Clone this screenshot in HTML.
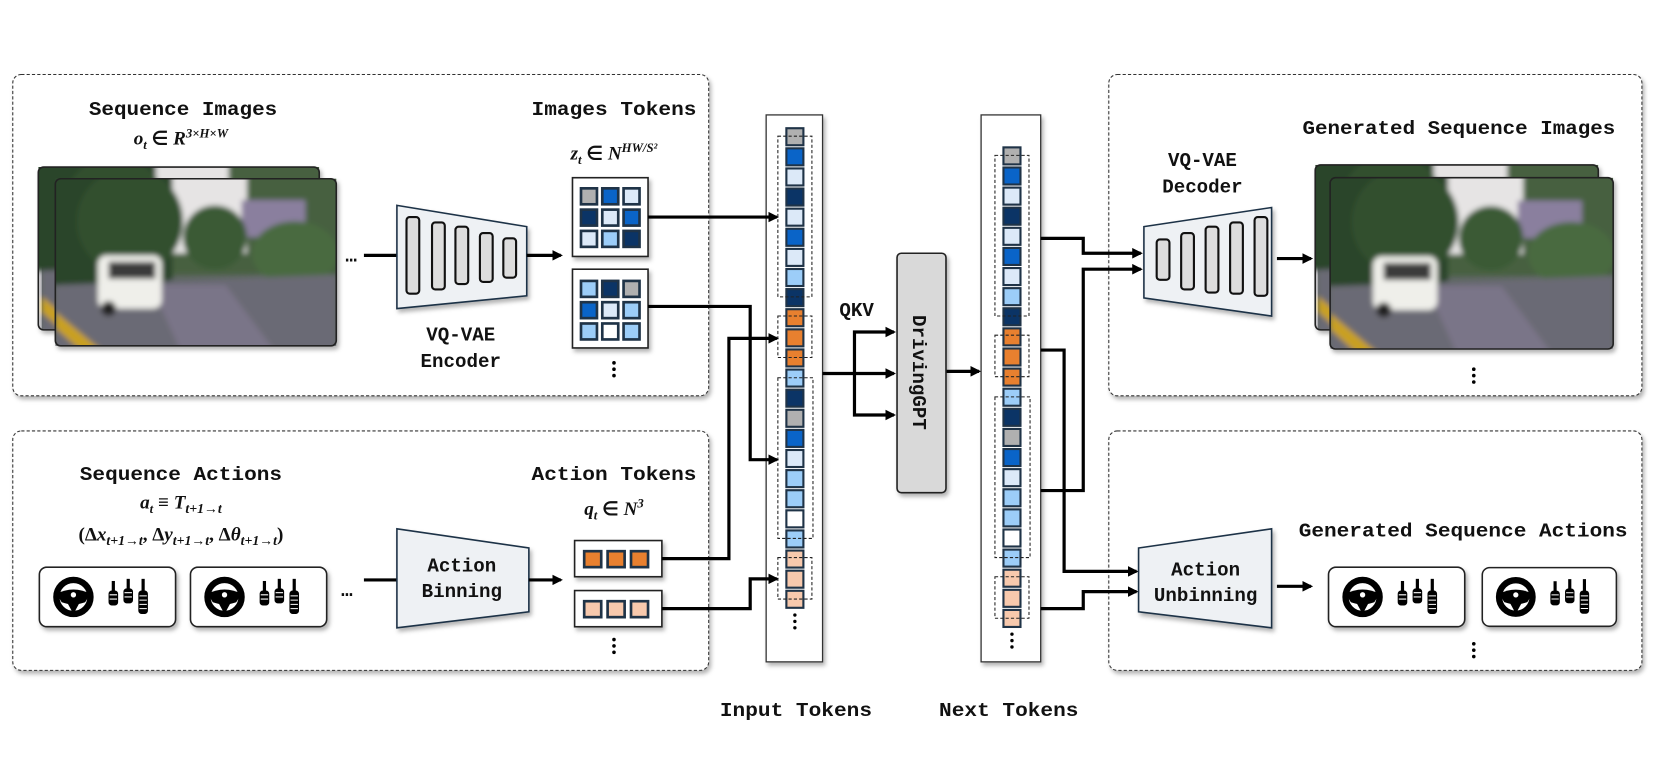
<!DOCTYPE html>
<html><head><meta charset="utf-8"><style>
html,body{margin:0;padding:0;background:#fff}
svg{display:block}
.t{font-family:"Liberation Mono",monospace;font-weight:bold;font-size:18px;fill:#111}
.m{font-family:"Liberation Serif",serif;font-style:italic;font-weight:bold;fill:#111}
.mu{font-family:"Liberation Serif",serif;font-weight:bold;fill:#111}
</style></head><body>
<svg width="1660" height="764" viewBox="0 0 1560 718" preserveAspectRatio="none" xmlns="http://www.w3.org/2000/svg">
<defs>
<filter id="sh" x="-10%" y="-10%" width="130%" height="130%"><feDropShadow dx="2" dy="3" stdDeviation="2" flood-color="#000" flood-opacity="0.3"/></filter>
<filter id="bl"><feGaussianBlur stdDeviation="2.5"/></filter>
<marker id="ar" markerWidth="10" markerHeight="10" refX="8" refY="5" orient="auto" markerUnits="userSpaceOnUse"><path d="M0,0 L10,5 L0,10 z" fill="#000"/></marker>
<symbol id="photo" viewBox="0 0 264 157">
<rect width="264" height="157" fill="#5d6660"/>
<g filter="url(#bl)">
<rect x="-10" y="-10" width="290" height="100" fill="#46613f"/>
<rect x="110" y="-10" width="70" height="80" fill="#e6e4e4"/>
<rect x="175" y="20" width="60" height="35" fill="#8a7f9e"/>
<ellipse cx="150" cy="55" rx="30" ry="30" fill="#3a5a34"/>
<ellipse cx="225" cy="70" rx="40" ry="30" fill="#4a6a40"/>
<rect x="-10" y="-10" width="120" height="110" fill="#2b4429"/>
<ellipse cx="70" cy="40" rx="50" ry="50" fill="#33502f"/>
<path d="M0,100 L264,90 L264,167 L0,167z" fill="#6b6a74"/>
<path d="M90,100 L160,100 L210,167 L120,167z" fill="#7a7488"/>
<path d="M0,125 L50,167 L30,167 L0,140z" fill="#c9a020"/>
<rect x="40" y="72" width="60" height="50" rx="8" fill="#efefea"/>
<rect x="50" y="78" width="44" height="16" fill="#3a3a3a"/>
<circle cx="50" cy="122" r="7" fill="#222"/>
</g>
</symbol>
<symbol id="card" viewBox="0 0 130 58">
<rect x="1" y="1" width="128" height="56" rx="7" fill="#fff" stroke="#222" stroke-width="1.5"/>
<circle cx="33" cy="29" r="16" fill="none" stroke="#000" stroke-width="6"/>
<path d="M17,26 Q33,18 49,26 L44,34 Q33,38 22,34z" fill="#000"/>
<path d="M27,34 L33,45 L39,34z" fill="#000"/>
<circle cx="33" cy="27" r="3" fill="#fff" stroke="#000" stroke-width="1"/>
<rect x="69" y="14" width="3" height="10" fill="#000"/><rect x="66" y="23" width="9" height="14" rx="3" fill="#000"/>
<rect x="83" y="12" width="3" height="10" fill="#000"/><rect x="80" y="21" width="9" height="14" rx="3" fill="#000"/>
<rect x="97" y="12" width="3" height="12" fill="#000"/><rect x="94" y="23" width="9" height="22" rx="3" fill="#000"/>
<g stroke="#fff" stroke-width="1"><path d="M67,27h7M67,31h7M81,25h7M81,29h7M95,28h7M95,32h7M95,36h7M95,40h7"/></g>
</symbol>
<g id="tok" stroke="#1f3347" stroke-width="2">
<rect x="739" y="120.5" width="16" height="16" fill="#b0b0b0"/>
<rect x="739" y="139.4" width="16" height="16" fill="#0a64c8"/>
<rect x="739" y="158.3" width="16" height="16" fill="#dce9f8"/>
<rect x="739" y="177.2" width="16" height="16" fill="#0b3466"/>
<rect x="739" y="196.1" width="16" height="16" fill="#dce9f8"/>
<rect x="739" y="215" width="16" height="16" fill="#0a64c8"/>
<rect x="739" y="233.9" width="16" height="16" fill="#dce9f8"/>
<rect x="739" y="252.8" width="16" height="16" fill="#9ccdf8"/>
<rect x="739" y="271.7" width="16" height="16" fill="#0b3466"/>
<rect x="739" y="290.6" width="16" height="16" fill="#e8802f"/>
<rect x="739" y="309.5" width="16" height="16" fill="#e8802f"/>
<rect x="739" y="328.4" width="16" height="16" fill="#e8802f"/>
<rect x="739" y="347.3" width="16" height="16" fill="#9ccdf8"/>
<rect x="739" y="366.2" width="16" height="16" fill="#0b3466"/>
<rect x="739" y="385.1" width="16" height="16" fill="#b0b0b0"/>
<rect x="739" y="404" width="16" height="16" fill="#0a64c8"/>
<rect x="739" y="422.9" width="16" height="16" fill="#dce9f8"/>
<rect x="739" y="441.8" width="16" height="16" fill="#9ccdf8"/>
<rect x="739" y="460.7" width="16" height="16" fill="#9ccdf8"/>
<rect x="739" y="479.6" width="16" height="16" fill="#ffffff"/>
<rect x="739" y="498.5" width="16" height="16" fill="#9ccdf8"/>
<rect x="739" y="517.4" width="16" height="16" fill="#f7c9ad"/>
<rect x="739" y="536.3" width="16" height="16" fill="#f7c9ad"/>
<rect x="739" y="555.2" width="16" height="16" fill="#f7c9ad"/>
<g fill="none" stroke="#222" stroke-width="1" stroke-dasharray="3,2">
<rect x="731" y="128" width="32" height="151"/>
<rect x="731" y="297" width="32" height="39"/>
<rect x="731" y="355" width="33" height="151"/>
<rect x="731" y="524" width="32" height="39"/>
</g>
<g fill="#000" stroke="none"><circle cx="747" cy="578" r="1.6"/><circle cx="747" cy="584" r="1.6"/><circle cx="747" cy="590" r="1.6"/></g>
</g>
</defs>

<g fill="#fff" stroke="#333" stroke-width="1" stroke-dasharray="3,2" filter="url(#sh)">
<rect x="12" y="70" width="654" height="302" rx="8"/>
<rect x="12" y="405" width="654" height="225" rx="8"/>
<rect x="1042" y="70" width="501" height="302" rx="8"/>
<rect x="1042" y="405" width="501" height="225" rx="8"/>
</g>

<text class="t" x="172" y="108" text-anchor="middle" textLength="177" lengthAdjust="spacingAndGlyphs">Sequence Images</text>
<text x="170" y="136" text-anchor="middle"><tspan class="m" font-size="18">o</tspan><tspan class="m" font-size="12" dy="4">t</tspan><tspan class="mu" font-size="18" dy="-4"> ∈ </tspan><tspan class="m" font-size="18">R</tspan><tspan class="m" font-size="12" dy="-7">3×H×W</tspan></text>
<g filter="url(#sh)">
<svg x="36" y="157" width="264" height="153"><use href="#photo" width="264" height="153"/></svg>
<rect x="36" y="157" width="264" height="153" rx="5" fill="none" stroke="#222" stroke-width="1.5"/>
<svg x="52" y="168" width="264" height="157"><use href="#photo" width="264" height="157"/></svg>
<rect x="52" y="168" width="264" height="157" rx="5" fill="none" stroke="#222" stroke-width="1.5"/>
</g>
<text class="t" x="330" y="246" text-anchor="middle">…</text>
<line x1="342" y1="240" x2="373" y2="240" stroke="#000" stroke-width="3"/>
<path d="M373,193 L495,213 L495,278 L373,290z" fill="#eef1f4" stroke="#1f3347" stroke-width="1.5" filter="url(#sh)"/>
<g fill="#ddd" stroke="#111" stroke-width="2">
<rect x="382" y="204" width="12" height="72" rx="3"/><rect x="406" y="209" width="12" height="63" rx="3"/><rect x="428" y="213" width="12" height="54" rx="3"/><rect x="451" y="219" width="12" height="46" rx="3"/><rect x="473" y="224" width="12" height="37" rx="3"/>
</g>
<line x1="495" y1="240" x2="527" y2="240" stroke="#000" stroke-width="3" marker-end="url(#ar)"/>
<text class="t" x="433" y="320" text-anchor="middle">VQ-VAE</text>
<text class="t" x="433" y="345" text-anchor="middle">Encoder</text>
<text class="t" x="577" y="108" text-anchor="middle" textLength="155" lengthAdjust="spacingAndGlyphs">Images Tokens</text>
<text x="577" y="150" text-anchor="middle"><tspan class="m" font-size="18">z</tspan><tspan class="m" font-size="12" dy="4">t</tspan><tspan class="mu" font-size="18" dy="-4"> ∈ </tspan><tspan class="m" font-size="18">N</tspan><tspan class="m" font-size="12" dy="-7">HW/S²</tspan></text>
<g filter="url(#sh)"><rect x="538" y="167" width="71" height="74" fill="#fff" stroke="#222" stroke-width="1.5"/><rect x="538" y="253" width="71" height="74" fill="#fff" stroke="#222" stroke-width="1.5"/></g>
<g stroke="#1f3347" stroke-width="2.5">
<rect x="546" y="177" width="15" height="15" fill="#b0b0b0"/><rect x="566" y="177" width="15" height="15" fill="#0a64c8"/><rect x="586" y="177" width="15" height="15" fill="#dce9f8"/>
<rect x="546" y="197" width="15" height="15" fill="#0b3466"/><rect x="566" y="197" width="15" height="15" fill="#dce9f8"/><rect x="586" y="197" width="15" height="15" fill="#0a64c8"/>
<rect x="546" y="217" width="15" height="15" fill="#dce9f8"/><rect x="566" y="217" width="15" height="15" fill="#9ccdf8"/><rect x="586" y="217" width="15" height="15" fill="#0b3466"/>
<rect x="546" y="264" width="15" height="15" fill="#9ccdf8"/><rect x="566" y="264" width="15" height="15" fill="#0b3466"/><rect x="586" y="264" width="15" height="15" fill="#b0b0b0"/>
<rect x="546" y="284" width="15" height="15" fill="#0a64c8"/><rect x="566" y="284" width="15" height="15" fill="#dce9f8"/><rect x="586" y="284" width="15" height="15" fill="#9ccdf8"/>
<rect x="546" y="304" width="15" height="15" fill="#9ccdf8"/><rect x="566" y="304" width="15" height="15" fill="#fff"/><rect x="586" y="304" width="15" height="15" fill="#9ccdf8"/>
</g>
<g fill="#000"><circle cx="577" cy="341" r="1.7"/><circle cx="577" cy="347" r="1.7"/><circle cx="577" cy="353" r="1.7"/></g>

<text class="t" x="170" y="451" text-anchor="middle" textLength="190" lengthAdjust="spacingAndGlyphs">Sequence Actions</text>
<text x="170" y="478" text-anchor="middle"><tspan class="m" font-size="18">a</tspan><tspan class="m" font-size="12" dy="4">t</tspan><tspan class="mu" font-size="18" dy="-4"> ≡ </tspan><tspan class="m" font-size="18">T</tspan><tspan class="m" font-size="13" dy="4">t+1→t</tspan></text>
<text x="170" y="508" text-anchor="middle"><tspan class="mu" font-size="18">(Δ</tspan><tspan class="m" font-size="18">x</tspan><tspan class="m" font-size="13" dy="4">t+1→t</tspan><tspan class="mu" font-size="18" dy="-4">, Δ</tspan><tspan class="m" font-size="18">y</tspan><tspan class="m" font-size="13" dy="4">t+1→t</tspan><tspan class="mu" font-size="18" dy="-4">, Δ</tspan><tspan class="m" font-size="18">θ</tspan><tspan class="m" font-size="13" dy="4">t+1→t</tspan><tspan class="mu" font-size="18" dy="-4">)</tspan></text>
<g filter="url(#sh)"><use href="#card" x="36" y="532" width="130" height="58"/><use href="#card" x="173" y="532" width="140" height="58"/></g>
<text class="t" x="326" y="560" text-anchor="middle">…</text>
<line x1="342" y1="545" x2="373" y2="545" stroke="#000" stroke-width="3"/>
<path d="M373,497 L497,515 L497,575 L373,590z" fill="#eef1f4" stroke="#1f3347" stroke-width="1.5" filter="url(#sh)"/>
<text class="t" x="434" y="537" text-anchor="middle">Action</text>
<text class="t" x="434" y="561" text-anchor="middle">Binning</text>
<line x1="497" y1="545" x2="527" y2="545" stroke="#000" stroke-width="3" marker-end="url(#ar)"/>
<text class="t" x="577" y="451" text-anchor="middle" textLength="155" lengthAdjust="spacingAndGlyphs">Action Tokens</text>
<text x="577" y="484" text-anchor="middle"><tspan class="m" font-size="18">q</tspan><tspan class="m" font-size="12" dy="4">t</tspan><tspan class="mu" font-size="18" dy="-4"> ∈ </tspan><tspan class="m" font-size="18">N</tspan><tspan class="m" font-size="12" dy="-7">3</tspan></text>
<g filter="url(#sh)"><rect x="540" y="508" width="82" height="34" fill="#fff" stroke="#222" stroke-width="1.5"/><rect x="540" y="555" width="82" height="34" fill="#fff" stroke="#222" stroke-width="1.5"/></g>
<g stroke="#1f3347" stroke-width="2.5">
<rect x="549" y="518" width="16" height="15" fill="#e8802f"/><rect x="571" y="518" width="16" height="15" fill="#e8802f"/><rect x="593" y="518" width="16" height="15" fill="#e8802f"/>
<rect x="549" y="565" width="16" height="15" fill="#f7c9ad"/><rect x="571" y="565" width="16" height="15" fill="#f7c9ad"/><rect x="593" y="565" width="16" height="15" fill="#f7c9ad"/>
</g>
<g fill="#000"><circle cx="577" cy="601" r="1.7"/><circle cx="577" cy="607" r="1.7"/><circle cx="577" cy="613" r="1.7"/></g>

<rect x="720" y="108" width="53" height="514" fill="#fff" stroke="#333" stroke-width="1.2" filter="url(#sh)"/>
<rect x="922" y="108" width="56" height="514" fill="#fff" stroke="#333" stroke-width="1.2" filter="url(#sh)"/>
<use href="#tok"/>
<use href="#tok" transform="translate(204,18)"/>
<text class="t" x="748" y="673" text-anchor="middle" textLength="143" lengthAdjust="spacingAndGlyphs">Input Tokens</text>
<text class="t" x="948" y="673" text-anchor="middle" textLength="131" lengthAdjust="spacingAndGlyphs">Next Tokens</text>

<g fill="none" stroke="#000" stroke-width="3" marker-end="url(#ar)">
<path d="M609,204 H730"/>
<path d="M609,288 H705 V432 H730"/>
<path d="M622,525 H685 V318 H730"/>
<path d="M622,572 H705 V544 H730"/>
<path d="M773,351 H840"/>
<path d="M803,351 V312 H840"/>
<path d="M803,351 V390 H840"/>
<path d="M888,349 H920"/>
<path d="M978,224 H1018 V238 H1072"/>
<path d="M978,461 H1018 V253 H1072"/>
<path d="M978,329 H1000 V537 H1068"/>
<path d="M978,572 H1018 V556 H1068"/>
<path d="M1200,243 H1232"/>
<path d="M1200,551 H1232"/>
</g>
<text class="t" x="805" y="297" text-anchor="middle" font-size="16">QKV</text>

<rect x="843" y="238" width="46" height="225" rx="4" fill="#d9d9d9" stroke="#222" stroke-width="1.5" filter="url(#sh)"/>
<text class="t" transform="translate(858,350) rotate(90)" text-anchor="middle" font-size="19">DrivingGPT</text>

<text class="t" x="1371" y="126" text-anchor="middle" textLength="294" lengthAdjust="spacingAndGlyphs">Generated Sequence Images</text>
<text class="t" x="1130" y="156" text-anchor="middle">VQ-VAE</text>
<text class="t" x="1130" y="181" text-anchor="middle">Decoder</text>
<path d="M1075,213 L1195,195 L1195,297 L1075,280z" fill="#eef1f4" stroke="#1f3347" stroke-width="1.5" filter="url(#sh)"/>
<g fill="#ddd" stroke="#111" stroke-width="2">
<rect x="1087" y="225" width="12" height="38" rx="3"/><rect x="1110" y="219" width="12" height="53" rx="3"/><rect x="1133" y="213" width="12" height="62" rx="3"/><rect x="1156" y="209" width="12" height="67" rx="3"/><rect x="1179" y="204" width="12" height="74" rx="3"/>
</g>
<g filter="url(#sh)">
<svg x="1236" y="155" width="266" height="155"><use href="#photo" width="266" height="155"/></svg>
<rect x="1236" y="155" width="266" height="155" rx="5" fill="none" stroke="#222" stroke-width="1.5"/>
<svg x="1250" y="167" width="266" height="161"><use href="#photo" width="266" height="161"/></svg>
<rect x="1250" y="167" width="266" height="161" rx="5" fill="none" stroke="#222" stroke-width="1.5"/>
</g>
<g fill="#000"><circle cx="1385" cy="347" r="1.7"/><circle cx="1385" cy="353" r="1.7"/><circle cx="1385" cy="359" r="1.7"/></g>

<text class="t" x="1375" y="504" text-anchor="middle" textLength="309" lengthAdjust="spacingAndGlyphs">Generated Sequence Actions</text>
<path d="M1070,515 L1195,497 L1195,590 L1070,575z" fill="#eef1f4" stroke="#1f3347" stroke-width="1.5" filter="url(#sh)"/>
<text class="t" x="1133" y="541" text-anchor="middle">Action</text>
<text class="t" x="1133" y="565" text-anchor="middle">Unbinning</text>
<g filter="url(#sh)"><use href="#card" x="1243" y="532" width="139" height="58"/><use href="#card" x="1392" y="532" width="128" height="58"/></g>
<g fill="#000"><circle cx="1385" cy="605" r="1.7"/><circle cx="1385" cy="611" r="1.7"/><circle cx="1385" cy="617" r="1.7"/></g>
</svg>
</body></html>
